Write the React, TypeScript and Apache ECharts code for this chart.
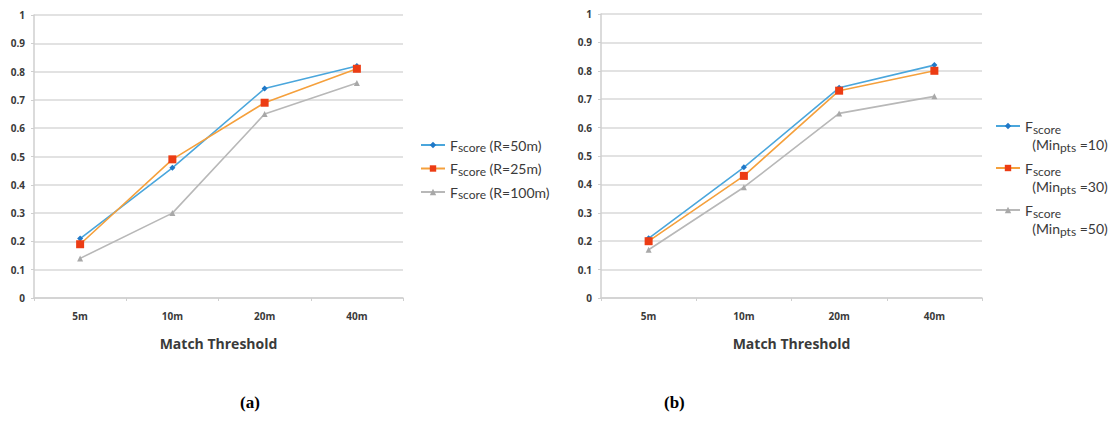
import React, { useEffect, useRef } from "react";
import * as echarts from "echarts";

const categories = ["5m", "10m", "20m", "40m"];
const yTicks = [0, 0.1, 0.2, 0.3, 0.4, 0.5, 0.6, 0.7, 0.8, 0.9, 1];

const leftNames = ["Fscore (R=50m)", "Fscore (R=25m)", "Fscore (R=100m)"];
const leftR50 = [0.21, 0.46, 0.74, 0.82];
const leftR25 = [0.19, 0.49, 0.69, 0.81];
const leftR100 = [0.14, 0.3, 0.65, 0.76];

const rightNames = ["Fscore (Minpts =10)", "Fscore (Minpts =30)", "Fscore (Minpts =50)"];
const rightMin10 = [0.21, 0.46, 0.74, 0.82];
const rightMin30 = [0.2, 0.43, 0.73, 0.8];
const rightMin50 = [0.17, 0.39, 0.65, 0.71];

const xTitle = "Match Threshold";
const captions = ["(a)", "(b)"];

const BLUE_LINE = "#4aa6dc";
const BLUE_MARK = "#1f78c8";
const ORANGE_LINE = "#f5a03c";
const ORANGE_MARK = "#ec3c14";
const GRAY_LINE = "#b8b8b8";
const GRAY_MARK = "#a8a8a8";
const TEXT = "#3a3a3a";
const FONT = "'Open Sans', 'Liberation Sans', sans-serif";
const LEG_FONT = "Lato, 'Open Sans', sans-serif";

const legendFmtLeft: Record<string, string> = {
  [leftNames[0]]: "F{sub|score} (R=50m)",
  [leftNames[1]]: "F{sub|score} (R=25m)",
  [leftNames[2]]: "F{sub|score} (R=100m)",
};
const legendFmtRight: Record<string, string> = {
  [rightNames[0]]: "F{sub|score}\n  (Min{sub|pts} =10)",
  [rightNames[1]]: "F{sub|score}\n  (Min{sub|pts} =30)",
  [rightNames[2]]: "F{sub|score}\n  (Min{sub|pts} =50)",
};

function makeXAxis(gridIndex: number) {
  return {
    type: "category",
    gridIndex,
    data: categories,
    boundaryGap: true,
    axisLine: { lineStyle: { color: "#cfcfcf", width: 1.5 } },
    axisTick: { show: true, length: 3, lineStyle: { color: "#cfcfcf" } },
    axisLabel: { color: TEXT, fontSize: 10, margin: 13, fontFamily: FONT, fontWeight: "bold" },
    name: xTitle,
    nameLocation: "middle",
    nameGap: 38,
    nameTextStyle: { color: TEXT, fontSize: 14, fontWeight: "bold", fontFamily: FONT },
  };
}

function makeYAxis(gridIndex: number, margin: number) {
  return {
    type: "value",
    gridIndex,
    min: 0,
    max: 1,
    interval: 0.1,
    axisLine: { show: true, lineStyle: { color: "#cfcfcf", width: 1.5 } },
    axisTick: { show: true, length: 3, lineStyle: { color: "#cfcfcf" } },
    axisLabel: {
      color: TEXT,
      fontSize: 10,
      margin,
      fontFamily: FONT,
      fontWeight: "bold",
      formatter: (v: number) => {
        const t = yTicks.find((y) => Math.abs(y - v) < 1e-6);
        return t === undefined ? "" : String(Math.round(t * 10) / 10);
      },
    },
    splitLine: { show: true, lineStyle: { color: "#d9d9d9", width: 1.5 } },
  };
}

function makeSeries(
  name: string,
  data: number[],
  idx: number,
  lineColor: string,
  markColor: string,
  symbol: string,
  size: number
) {
  return {
    type: "line",
    name,
    data,
    xAxisIndex: idx,
    yAxisIndex: idx,
    symbol,
    symbolSize: size,
    lineStyle: { color: lineColor, width: 1.6 },
    itemStyle: { color: markColor },
    emphasis: { disabled: true },
  };
}

const subStyle = {
  fontSize: 12,
  verticalAlign: "bottom",
  color: TEXT,
  fontFamily: LEG_FONT,
  padding: [5, 0, 0, 0],
};

export default function App() {
  const ref = useRef<HTMLDivElement>(null);
  useEffect(() => {
    if (!ref.current) return;
    const chart = echarts.init(ref.current, undefined, { renderer: "svg" });
    chart.setOption({
      animation: false,
      backgroundColor: "#ffffff",
      grid: [
        { left: 34, top: 15, width: 369, height: 283 },
        { left: 601, top: 14, width: 381, height: 284 },
      ],
      xAxis: [makeXAxis(0), makeXAxis(1)],
      yAxis: [makeYAxis(0, 9), makeYAxis(1, 9)],
      legend: [
        {
          data: leftNames,
          orient: "vertical",
          left: 420,
          top: 138,
          padding: 0,
          itemWidth: 24,
          itemHeight: 8,
          itemGap: 8,
          formatter: (n: string) => legendFmtLeft[n] || n,
          textStyle: { color: TEXT, fontSize: 14, fontFamily: LEG_FONT, rich: { sub: subStyle } },
        },
        {
          data: rightNames,
          orient: "vertical",
          left: 995,
          top: 99,
          padding: 0,
          itemWidth: 24,
          itemHeight: 8,
          itemGap: -12,
          formatter: (n: string) => legendFmtRight[n] || n,
          textStyle: {
            color: TEXT,
            fontSize: 14,
            lineHeight: 18,
            fontFamily: LEG_FONT,
            padding: [18, 0, 0, 0],
            rich: { sub: { ...subStyle, lineHeight: 18 } },
          },
        },
      ],
      series: [
        makeSeries(leftNames[0], leftR50, 0, BLUE_LINE, BLUE_MARK, "diamond", 6),
        makeSeries(leftNames[1], leftR25, 0, ORANGE_LINE, ORANGE_MARK, "rect", 8),
        makeSeries(leftNames[2], leftR100, 0, GRAY_LINE, GRAY_MARK, "triangle", 6),
        makeSeries(rightNames[0], rightMin10, 1, BLUE_LINE, BLUE_MARK, "diamond", 6),
        makeSeries(rightNames[1], rightMin30, 1, ORANGE_LINE, ORANGE_MARK, "rect", 8),
        makeSeries(rightNames[2], rightMin50, 1, GRAY_LINE, GRAY_MARK, "triangle", 6),
      ],
      graphic: [
        {
          type: "text",
          left: 240,
          top: 394,
          style: { text: captions[0], font: "bold 17px 'Liberation Serif', serif", fill: "#000" },
        },
        {
          type: "text",
          left: 664,
          top: 394,
          style: { text: captions[1], font: "bold 17px 'Liberation Serif', serif", fill: "#000" },
        },
      ],
    });
    return () => chart.dispose();
  }, []);
  return (
    <div
      ref={ref}
      style={{ position: "absolute", left: 0, top: 0, width: 1110, height: 422 }}
    />
  );
}
